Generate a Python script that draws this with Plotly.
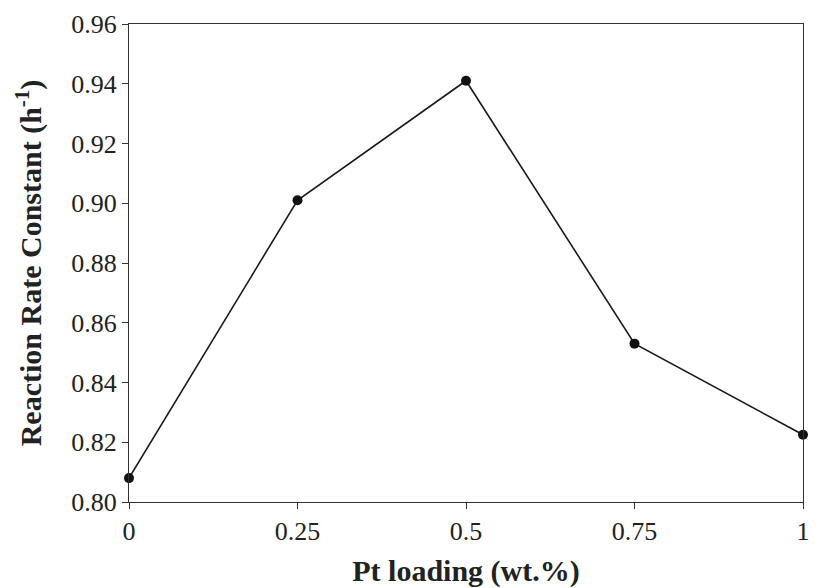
import plotly.graph_objects as go

pt_loading = [0, 0.25, 0.5, 0.75, 1]
rate_constant = [0.808, 0.901, 0.941, 0.853, 0.8225]
x_ticks = [0, 0.25, 0.5, 0.75, 1]
x_ticklabels = ["0", "0.25", "0.5", "0.75", "1"]
y_ticks = [0.80, 0.82, 0.84, 0.86, 0.88, 0.90, 0.92, 0.94, 0.96]
y_ticklabels = ["0.80", "0.82", "0.84", "0.86", "0.88", "0.90", "0.92", "0.94", "0.96"]

fig = go.Figure()
fig.add_trace(go.Scatter(
    x=pt_loading, y=rate_constant, mode="lines+markers",
    line=dict(color="#1a1a1a", width=1.6),
    marker=dict(color="#111111", size=10),
    cliponaxis=False, showlegend=False,
))

font = "Liberation Serif, Times New Roman, serif"
fig.update_layout(
    width=817, height=588,
    margin=dict(l=129, r=7, t=24, b=86),
    paper_bgcolor="white", plot_bgcolor="white",
    font=dict(family=font, color="#222222"),
)
fig.update_xaxes(
    range=[0, 1], tickvals=x_ticks, ticktext=x_ticklabels,
    showgrid=False, zeroline=False,
    showline=True, linecolor="#333333", linewidth=1.3, mirror=True,
    ticks="outside", ticklen=6, tickcolor="#333333",
    tickfont=dict(size=26, family=font),
    title=dict(text="<b>Pt loading (wt.%)</b>", font=dict(size=30, family=font), standoff=14),
)
fig.update_yaxes(
    range=[0.80, 0.96], tickvals=y_ticks, ticktext=y_ticklabels,
    showgrid=False, zeroline=False,
    showline=True, linecolor="#333333", linewidth=1.3, mirror=True,
    ticks="outside", ticklen=6, tickcolor="#333333",
    tickfont=dict(size=26, family=font),
    title=dict(text="<b>Reaction Rate Constant (h<sup>-1</sup>)</b>", font=dict(size=30, family=font), standoff=20),
)
fig.write_html("out.html")
